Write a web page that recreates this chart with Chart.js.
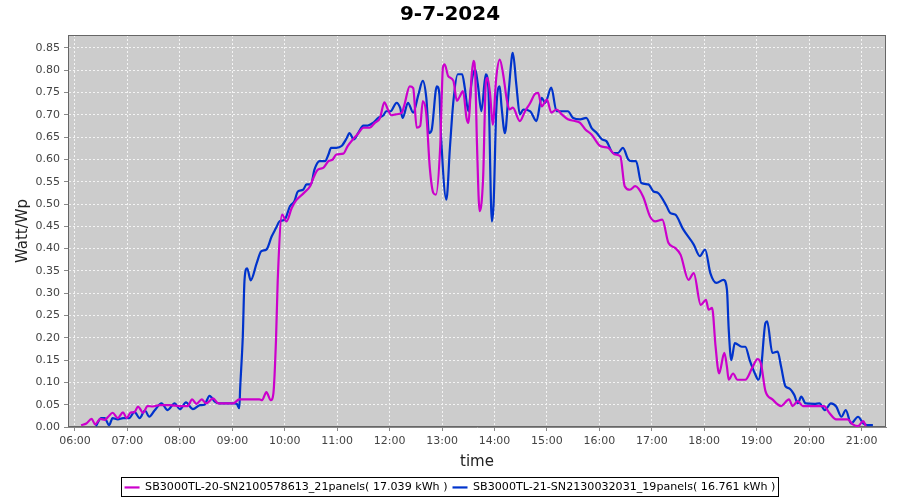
<!DOCTYPE html>
<html>
<head>
<meta charset="utf-8">
<title>9-7-2024</title>
<script src="https://cdn.jsdelivr.net/npm/chart.js@4.4.1/dist/chart.umd.min.js"></script>
<style>
  html, body { margin: 0; padding: 0; background: #fff; }
  #wrap { width: 900px; height: 500px; }
</style>
</head>
<body>
<div id="wrap"><canvas id="powerChart" width="900" height="500"></canvas></div>
<script>
// inverter SB3000TL-20 (21 panels), [time, Watt/Wp]
const inverterA = [
  ['06:07',0.004],['06:13',0.008],['06:19',0.018],['06:23',0.006],['06:29',0.018],['06:34',0.016],
  ['06:38',0.023],['06:43',0.032],['06:49',0.020],['06:55',0.033],['06:59',0.020],['07:04',0.033],
  ['07:08',0.033],['07:12',0.046],['07:18',0.032],['07:23',0.047],['07:29',0.046],['07:37',0.049],
  ['07:48',0.049],['08:00',0.047],['08:09',0.047],['08:14',0.062],['08:19',0.052],['08:25',0.062],
  ['08:30',0.053],['08:38',0.064],['08:44',0.053],['08:53',0.053],['09:01',0.053],['09:08',0.062],
  ['09:20',0.062],['09:31',0.062],['09:34',0.060],['09:39',0.078],['09:44',0.060],['09:47',0.075],
  ['09:50',0.195],['09:52',0.330],['09:57',0.476],['10:02',0.461],['10:08',0.491],['10:13',0.508],
  ['10:22',0.525],['10:29',0.540],['10:32',0.555],['10:38',0.577],['10:44',0.581],['10:50',0.596],
  ['10:55',0.600],['10:59',0.611],['11:07',0.613],['11:12',0.630],['11:18',0.645],['11:24',0.658],
  ['11:30',0.671],['11:37',0.671],['11:43',0.682],['11:49',0.693],['11:54',0.728],['11:58',0.712],
  ['12:02',0.699],['12:07',0.701],['12:14',0.705],['12:17',0.723],['12:23',0.764],['12:27',0.760],
  ['12:31',0.671],['12:35',0.675],['12:38',0.731],['12:42',0.701],['12:46',0.581],['12:50',0.525],
  ['12:53',0.521],['12:58',0.633],['13:01',0.806],['13:03',0.813],['13:07',0.787],['13:13',0.776],
  ['13:17',0.731],['13:20',0.740],['13:24',0.753],['13:28',0.693],['13:30',0.682],['13:34',0.791],
  ['13:36',0.821],['13:38',0.790],['13:40',0.633],['13:43',0.484],['13:47',0.559],['13:50',0.768],
  ['13:52',0.783],['13:55',0.746],['13:58',0.678],['14:02',0.783],['14:06',0.824],['14:10',0.790],
  ['14:14',0.735],['14:17',0.712],['14:21',0.716],['14:29',0.686],['14:35',0.708],['14:41',0.727],
  ['14:46',0.746],['14:50',0.749],['14:54',0.719],['15:00',0.734],['15:05',0.705],['15:11',0.712],
  ['15:17',0.701],['15:24',0.690],['15:32',0.686],['15:38',0.682],['15:44',0.667],['15:51',0.656],
  ['16:01',0.630],['16:10',0.626],['16:18',0.611],['16:24',0.607],['16:29',0.540],['16:35',0.532],
  ['16:41',0.540],['16:50',0.517],['16:58',0.472],['17:04',0.461],['17:12',0.465],['17:19',0.413],
  ['17:27',0.401],['17:33',0.386],['17:42',0.330],['17:48',0.345],['17:56',0.274],['18:02',0.285],
  ['18:05',0.263],['18:09',0.267],['18:13',0.180],['18:17',0.120],['18:23',0.166],['18:26',0.135],
  ['18:28',0.106],['18:33',0.120],['18:38',0.106],['18:47',0.106],['18:55',0.133],['19:01',0.152],
  ['19:05',0.141],['19:10',0.081],['19:18',0.062],['19:28',0.047],['19:37',0.062],['19:41',0.047],
  ['19:47',0.058],['19:53',0.047],['20:06',0.047],['20:17',0.047],['20:23',0.032],['20:31',0.017],
  ['20:44',0.017],['20:50',0.006],['20:56',0.002],['21:02',0.013],['21:05',0.002]
];

// inverter SB3000TL-21 (19 panels), [time, Watt/Wp]
const inverterB = [
  ['06:24',0.002],['06:30',0.020],['06:34',0.020],['06:39',0.004],['06:43',0.020],['06:49',0.017],
  ['06:55',0.020],['07:02',0.020],['07:08',0.034],['07:14',0.020],['07:20',0.037],['07:25',0.023],
  ['07:31',0.037],['07:39',0.053],['07:46',0.038],['07:54',0.053],['08:00',0.040],['08:07',0.055],
  ['08:15',0.040],['08:23',0.049],['08:28',0.050],['08:34',0.070],['08:40',0.057],['08:45',0.053],
  ['08:53',0.053],['09:01',0.053],['09:05',0.052],['09:08',0.042],['09:09',0.087],['09:12',0.203],
  ['09:14',0.330],['09:17',0.356],['09:21',0.329],['09:28',0.368],['09:33',0.394],['09:39',0.398],
  ['09:45',0.427],['09:50',0.446],['09:54',0.461],['10:00',0.465],['10:06',0.495],['10:11',0.506],
  ['10:15',0.528],['10:21',0.532],['10:25',0.544],['10:30',0.544],['10:34',0.577],['10:40',0.596],
  ['10:46',0.596],['10:50',0.611],['10:53',0.626],['10:59',0.626],['11:05',0.630],['11:11',0.648],
  ['11:14',0.659],['11:19',0.645],['11:24',0.659],['11:30',0.676],['11:35',0.676],['11:41',0.682],
  ['11:47',0.693],['11:53',0.699],['11:56',0.708],['12:01',0.708],['12:08',0.727],['12:12',0.716],
  ['12:15',0.693],['12:21',0.727],['12:27',0.705],['12:33',0.746],['12:38',0.776],['12:42',0.738],
  ['12:45',0.659],['12:48',0.665],['12:54',0.764],['12:57',0.746],['12:59',0.648],['13:05',0.510],
  ['13:09',0.626],['13:13',0.731],['13:18',0.791],['13:23',0.791],['13:26',0.761],['13:30',0.708],
  ['13:34',0.776],['13:38',0.802],['13:41',0.768],['13:45',0.708],['13:50',0.791],['13:53',0.761],
  ['13:57',0.461],['13:59',0.500],['14:02',0.708],['14:06',0.764],['14:08',0.720],['14:12',0.659],
  ['14:16',0.746],['14:20',0.832],['14:21',0.839],['14:25',0.768],['14:29',0.701],['14:33',0.712],
  ['14:41',0.708],['14:48',0.686],['14:54',0.738],['14:58',0.727],['15:05',0.761],['15:11',0.708],
  ['15:24',0.708],['15:30',0.693],['15:38',0.690],['15:45',0.693],['15:51',0.671],['15:57',0.659],
  ['16:03',0.645],['16:08',0.641],['16:16',0.614],['16:21',0.614],['16:27',0.626],['16:33',0.600],
  ['16:37',0.596],['16:42',0.596],['16:48',0.547],['16:56',0.544],['17:02',0.528],['17:07',0.525],
  ['17:17',0.495],['17:21',0.480],['17:27',0.476],['17:36',0.443],['17:48',0.409],['17:55',0.383],
  ['18:01',0.398],['18:07',0.345],['18:14',0.323],['18:22',0.330],['18:26',0.308],['18:28',0.220],
  ['18:31',0.150],['18:35',0.188],['18:43',0.180],['18:47',0.180],['18:52',0.150],['18:58',0.120],
  ['19:02',0.106],['19:05',0.130],['19:10',0.233],['19:12',0.237],['19:18',0.166],['19:24',0.169],
  ['19:28',0.135],['19:33',0.091],['19:37',0.087],['19:43',0.072],['19:47',0.053],['19:51',0.068],
  ['19:56',0.053],['20:06',0.052],['20:12',0.053],['20:18',0.038],['20:25',0.053],['20:31',0.046],
  ['20:37',0.023],['20:42',0.038],['20:48',0.008],['20:56',0.023],['21:02',0.008],['21:07',0.004],
  ['21:13',0.004]
];

const seriesNames = [
  'SB3000TL-20-SN2100578613_21panels( 17.039 kWh )',
  'SB3000TL-21-SN2130032031_19panels( 16.761 kWh )'
];
const seriesColors = ['#cc00cc', '#0033cc'];

const xTickLabels = ['06:00','07:00','08:00','09:00','10:00','11:00','12:00','13:00',
                     '14:00','15:00','16:00','17:00','18:00','19:00','20:00','21:00'];
const yTickValues = [0, 0.05, 0.10, 0.15, 0.20, 0.25, 0.30, 0.35, 0.40,
                     0.45, 0.50, 0.55, 0.60, 0.65, 0.70, 0.75, 0.80, 0.85];

const padBottom = -3;

// "HH:MM" -> hours as a number
function toHours(t) {
    const p = t.split(':');
    return Number(p[0]) + Number(p[1]) / 60;
}
function fmtHours(v) {
    const h = Math.floor(v + 1e-6);
    const m = Math.round((v - h) * 60);
    return String(h).padStart(2, '0') + ':' + String(m).padStart(2, '0');
}

const plotLook = {
    id: 'plotLook',
    beforeDraw(chart) {
        const a = chart.chartArea, ctx = chart.ctx;
        ctx.save();
        ctx.fillStyle = '#cccccc';
        ctx.fillRect(a.left, a.top, a.right - a.left, a.bottom - a.top);
        ctx.restore();
    },
    beforeDatasetsDraw(chart) {
        const a = chart.chartArea, ctx = chart.ctx;
        ctx.save();
        ctx.strokeStyle = '#666666';
        ctx.lineWidth = 1;
        ctx.strokeRect(a.left + 0.5, a.top + 0.5, a.right - a.left - 1, a.bottom - a.top - 1);
        ctx.restore();
    },
    afterDraw(chart) {
        // box round the legend
        const boxes = chart.legend && chart.legend.legendHitBoxes;
        if (!boxes || !boxes.length) return;
        let l = Infinity, r = -Infinity, t = Infinity, b = -Infinity;
        boxes.forEach(function(h) {
            l = Math.min(l, h.left); r = Math.max(r, h.left + h.width);
            t = Math.min(t, h.top); b = Math.max(b, h.top + h.height);
        });
        const ctx = chart.ctx;
        ctx.save();
        ctx.strokeStyle = '#000';
        ctx.lineWidth = 1;
        ctx.strokeRect(Math.round(l) - 3.5, Math.round(t) - 4.5, Math.round(r - l) + 6, Math.round(b - t) + 8);
        ctx.restore();
    }
};

document.addEventListener('DOMContentLoaded', function() {
    "use strict";

    const ctx = document.getElementById('powerChart');
    const tickFont = { family: 'DejaVu Sans', size: 11 };

    new Chart(ctx, {
        type: 'line',
        data: {
            datasets: [inverterA, inverterB].map(function(rows, i) {
                return {
                    label: seriesNames[i],
                    data: rows.map(function(r) { return { x: toHours(r[0]), y: r[1] }; }),
                    borderColor: seriesColors[i],
                    backgroundColor: seriesColors[i],
                    borderWidth: 2.2,
                    pointRadius: 0,
                    fill: false,
                    cubicInterpolationMode: 'monotone'
                };
            })
        },
        options: {
            responsive: false,
            animation: false,
            layout: { padding: { left: 14, right: 14, top: 0, bottom: padBottom } },
            plugins: {
                title: {
                    display: true,
                    text: '9-7-2024',
                    color: '#000',
                    font: { family: 'DejaVu Sans', size: 20, weight: 'bold' },
                    padding: { top: 3, bottom: 8 }
                },
                legend: {
                    position: 'bottom',
                    labels: {
                        color: '#000',
                        font: { family: 'DejaVu Sans', size: 11.1 },
                        usePointStyle: true,
                        pointStyleWidth: 15,
                        pointStyle: 'line',
                        padding: 5
                    }
                },
                tooltip: { enabled: false }
            },
            scales: {
                x: {
                    type: 'linear',
                    min: toHours('05:52'),
                    max: toHours('21:28'),
                    afterBuildTicks: function(scale) {
                        scale.ticks = xTickLabels.map(function(t) { return { value: toHours(t) }; });
                    },
                    afterFit: function(scale) {
                        scale.height = 500 - 427 - scale.chart.legend.height - padBottom;
                    },
                    ticks: {
                        color: '#444',
                        font: tickFont,
                        maxRotation: 0,
                        padding: 4,
                        callback: function(v) { return fmtHours(v); }
                    },
                    grid: {
                        color: '#f4f4f4',
                        borderDash: [2, 2],
                        tickColor: '#888',
                        tickBorderDash: [],
                        tickLength: 4
                    },
                    border: { display: true, color: '#888', dash: [2, 2] },
                    title: {
                        display: true,
                        text: 'time',
                        color: '#222',
                        font: { family: 'DejaVu Sans', size: 15 },
                        padding: { top: 1, bottom: 6 }
                    }
                },
                y: {
                    min: 0,
                    max: 0.879,
                    afterBuildTicks: function(scale) {
                        scale.ticks = yTickValues.map(function(v) { return { value: v }; });
                    },
                    afterFit: function(scale) {
                        scale.width = 54;
                    },
                    ticks: {
                        color: '#444',
                        font: tickFont,
                        padding: 4,
                        callback: function(v) { return Number(v).toFixed(2); }
                    },
                    grid: {
                        color: '#f4f4f4',
                        borderDash: [2, 2],
                        tickColor: '#888',
                        tickBorderDash: [],
                        tickLength: 4
                    },
                    border: { display: true, color: '#888', dash: [2, 2] },
                    title: {
                        display: true,
                        text: 'Watt/Wp',
                        color: '#222',
                        font: { family: 'DejaVu Sans', size: 15 },
                        padding: { top: 0, bottom: 4 }
                    }
                }
            }
        },
        plugins: [plotLook]
    });
});
</script>
</body>
</html>
